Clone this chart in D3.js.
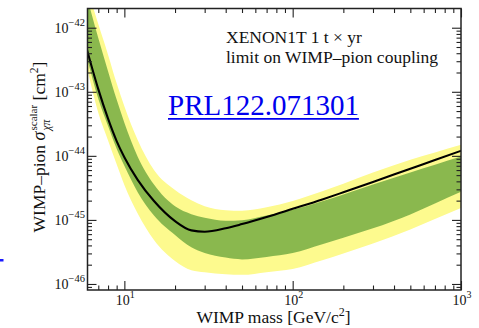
<!DOCTYPE html>
<html><head><meta charset="utf-8">
<script src="https://cdn.jsdelivr.net/npm/d3@7"></script>
<style>
html,body{margin:0;padding:0;background:#fff;}
svg{display:block;font-family:"Liberation Serif","Times New Roman",serif;}
</style></head><body>
<svg id="chart" width="479" height="328"></svg>
<script>
// WIMP mass grid [GeV/c^2]
const mass = [6, 7, 8, 9, 10, 12, 15, 20, 25, 30, 40, 50, 70, 100, 150, 200, 300, 500, 700, 1000];
// observed 90% CL upper limit on sigma_scalar [cm^2]
const limit = [4.5e-43, 1.1e-43, 3.8e-44, 1.70e-44, 9.5e-45, 4.22e-45, 1.97e-45, 9.57e-46, 6.86e-46, 6.55e-46, 7.4e-46, 8.6e-46, 1.11e-45, 1.49e-45, 2.09e-45, 2.7e-45, 3.9e-45, 6.3e-45, 8.6e-45, 1.2e-44];
// expected sensitivity bands
const band2Up = [4.2e-42, 1.14e-42, 3.8e-43, 1.36e-43, 5.96e-44, 1.77e-44, 6.0e-45, 2.92e-45, 2.03e-45, 1.64e-45, 1.42e-45, 1.39e-45, 1.57e-45, 1.97e-45, 2.79e-45, 3.66e-45, 5.48e-45, 8.69e-45, 1.13e-44, 1.49e-44];
const band1Up = [3.0e-42, 6.9e-43, 2.09e-43, 7.55e-44, 3.29e-44, 9.7e-45, 3.56e-45, 1.63e-45, 1.23e-45, 1.08e-45, 9.7e-46, 9.9e-46, 1.17e-45, 1.44e-45, 1.96e-45, 2.49e-45, 3.56e-45, 5.5e-45, 7.26e-45, 9.75e-45];
const band1Lo = [3.38e-43, 7.8e-44, 2.92e-44, 1.29e-44, 6.98e-45, 2.71e-45, 1.17e-45, 5.8e-46, 3.73e-46, 3.04e-46, 2.58e-46, 2.42e-46, 2.64e-46, 3.04e-46, 4.17e-46, 5.27e-46, 7.4e-46, 1.22e-45, 1.8e-45, 2.74e-45];
const band2Lo = [2.37e-43, 4.72e-44, 1.74e-44, 7.4e-45, 3.51e-45, 1.26e-45, 4.87e-46, 2.29e-46, 1.64e-46, 1.52e-46, 1.42e-46, 1.39e-46, 1.53e-46, 1.71e-46, 2.34e-46, 2.98e-46, 4.27e-46, 7.08e-46, 1.03e-45, 1.54e-45];

// tick decades
const xTickExp = [1, 2, 3];
const yTickExp = [-46, -45, -44, -43, -42];
const noteLines = ["XENON1T 1 t \u00d7 yr", "limit on WIMP\u2013pion coupling"];
const refLink = "PRL122.071301";

const svg = d3.select("#chart");
const plot = {left: 87.5, right: 461, top: 8.5, bottom: 290};
const x = d3.scaleLog().domain([6.04, 1000]).range([plot.left, plot.right]);
const y = d3.scaleLog().domain([Math.pow(10, -46.094), Math.pow(10, -41.70)]).range([plot.bottom, plot.top]);

const colYellow = "#fdfa8e", colGreen = "#8ab84e";

svg.append("clipPath").attr("id", "clip").append("rect")
  .attr("x", plot.left).attr("y", plot.top)
  .attr("width", plot.right - plot.left).attr("height", plot.bottom - plot.top);

const g = svg.append("g").attr("clip-path", "url(#clip)");
const idx = d3.range(mass.length);
const band = (lo, hi) => d3.area()
  .x(i => x(mass[i])).y0(i => y(lo[i])).y1(i => y(hi[i]))
  .curve(d3.curveMonotoneX)(idx);

g.append("path").attr("d", band(band2Lo, band2Up)).attr("fill", colYellow);
g.append("path").attr("d", band(band1Lo, band1Up)).attr("fill", colGreen);
g.append("path")
  .attr("d", d3.line().x(i => x(mass[i])).y(i => y(limit[i])).curve(d3.curveMonotoneX)(idx))
  .attr("fill", "none").attr("stroke", "#000").attr("stroke-width", 2.1);

// ticks
const xMajor = xTickExp.map(e => Math.pow(10, e));
const xMinor = [];
for (let d = 0; d < 3; d++) for (let k = 2; k < 10; k++) {
  const v = k * Math.pow(10, d);
  if (v >= 6.04 && v < 1000) xMinor.push(v);
}
const yMajor = yTickExp.map(e => Math.pow(10, e));
const yMinor = [];
for (let d = -47; d < -41; d++) for (let k = 2; k < 10; k++) {
  const v = k * Math.pow(10, d);
  if (v >= y.domain()[0] && v <= y.domain()[1]) yMinor.push(v);
}

function styleAxis(sel) {
  sel.select(".domain").remove();
  sel.selectAll("line").attr("stroke", "#222").attr("stroke-width", 1.1);
  sel.selectAll("text").remove();
}
const axes = [
  [d3.axisBottom(x), `translate(0,${plot.bottom})`, xMajor, xMinor],
  [d3.axisTop(x), `translate(0,${plot.top})`, xMajor, xMinor],
  [d3.axisLeft(y), `translate(${plot.left},0)`, yMajor, yMinor],
  [d3.axisRight(y), `translate(${plot.right},0)`, yMajor, yMinor]
];
axes.forEach(([ax, tr, maj, min]) => {
  svg.append("g").attr("transform", tr)
    .call(ax.tickValues(min).tickSizeInner(-4.5).tickSizeOuter(0)).call(styleAxis);
  svg.append("g").attr("transform", tr)
    .call(ax.tickValues(maj).tickSizeInner(-9).tickSizeOuter(0)).call(styleAxis);
});

// frame
svg.append("rect")
  .attr("x", plot.left).attr("y", plot.top)
  .attr("width", plot.right - plot.left).attr("height", plot.bottom - plot.top)
  .attr("fill", "none").attr("stroke", "#222").attr("stroke-width", 1.5);

// tick labels
xTickExp.forEach(e => {
  const t = svg.append("text").attr("x", x(Math.pow(10, e)) + 1).attr("y", 304.5)
    .attr("text-anchor", "middle").attr("font-size", 14).attr("fill", "#111");
  t.append("tspan").text("10");
  t.append("tspan").attr("dy", -6.5).attr("font-size", 10).text(String(e));
});
yTickExp.forEach(e => {
  const t = svg.append("text").attr("x", 85).attr("y", y(Math.pow(10, e)) + 5)
    .attr("text-anchor", "end").attr("font-size", 14).attr("fill", "#111");
  t.append("tspan").text("10");
  t.append("tspan").attr("dy", -6.5).attr("font-size", 10.5).text("\u2212" + Math.abs(e));
});

// x axis title
const xt = svg.append("text").attr("x", 273.5).attr("y", 323)
  .attr("text-anchor", "middle").attr("font-size", 17.5).attr("fill", "#111");
xt.append("tspan").text("WIMP mass [GeV/c");
xt.append("tspan").attr("dy", -7).attr("font-size", 12).text("2");
xt.append("tspan").attr("dy", 7).text("]");

// y axis title with stacked super/subscript
const yl = svg.append("g");
const yin = yl.append("g");
let cx = 0;
function piece(str, size, dy, italic, advance = true) {
  const t = yin.append("text").attr("x", cx).attr("y", dy)
    .attr("font-size", size).attr("fill", "#111").text(str);
  if (italic) t.attr("font-style", "italic");
  const w = t.node().getComputedTextLength();
  if (advance) cx += w;
  return w;
}
piece("WIMP\u2013pion", 17.5, 0, false);
cx += 4.5;
piece("\u03c3", 18, 0, true);
cx += 1;
const w1 = piece("scalar", 11, -8, false, false);
const w2 = piece("\u03c7\u03c0", 11.5, 4.5, true, false);
cx += Math.max(w1, w2) + 4.5;
piece("[cm", 17.5, 0, false);
piece("2", 11.5, -7.5, false);
piece("]", 17.5, 0, false);
yin.attr("transform", `translate(${-cx / 2},0)`);
yl.attr("transform", "translate(45,147) rotate(-90)");

// annotation
noteLines.forEach((s, i) => {
  svg.append("text").attr("x", 226).attr("y", 43 + i * 19.5)
    .attr("font-size", 17.5).attr("fill", "#111").text(s);
});
const link = svg.append("text").attr("x", 168).attr("y", 115)
  .attr("font-size", 29).attr("fill", "#0000ee").text(refLink);
const lw = link.node().getComputedTextLength();
svg.append("line").attr("x1", 168).attr("x2", 168 + lw).attr("y1", 118.8).attr("y2", 118.8)
  .attr("stroke", "#0000ee").attr("stroke-width", 1.7);

svg.append("rect").attr("x", 0).attr("y", 259).attr("width", 3.5).attr("height", 2.5).attr("fill", "#1a1aff");
</script>
</body></html>
